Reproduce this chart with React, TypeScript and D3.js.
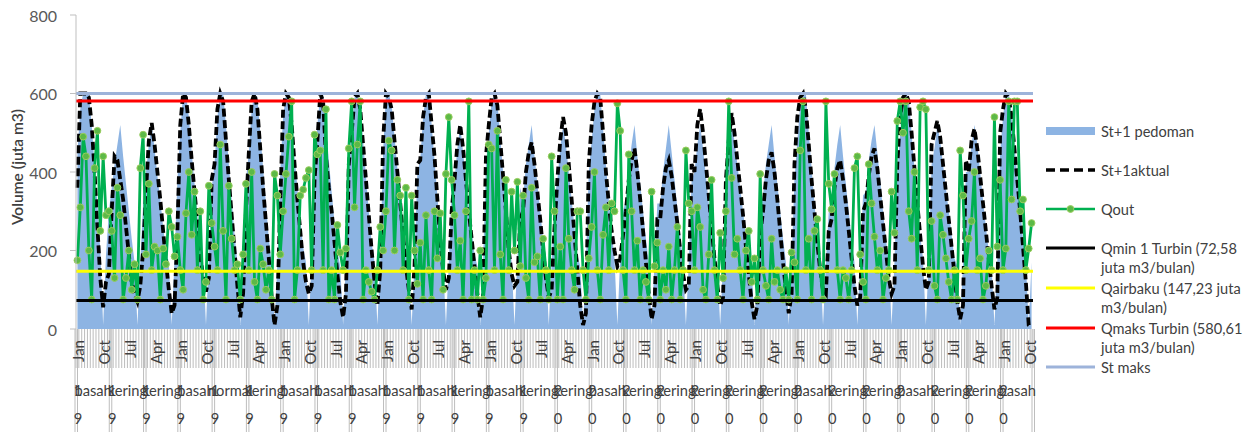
import React from 'react';
import * as d3 from 'd3';

// monthly data Jan 1986 .. Nov 2013
const monthNames = ['Jan', 'Feb', 'Mar', 'Apr', 'May', 'Jun', 'Jul', 'Aug', 'Sep', 'Oct', 'Nov', 'Dec'];
const years = ['1986', '1987', '1988', '1989', '1990', '1991', '1992', '1993', '1994', '1995', '1996', '1997', '1998', '1999',
  '2000', '2001', '2002', '2003', '2004', '2005', '2006', '2007', '2008', '2009', '2010', '2011', '2012', '2013'];
const yearTypes = ['basah', 'kering', 'kering', 'basah', 'normal', 'kering', 'basah', 'basah', 'basah', 'basah', 'basah', 'kering', 'basah', 'kering',
  'kering', 'basah', 'kering', 'kering', 'kering', 'kering', 'kering', 'basah', 'kering', 'kering', 'basah', 'kering', 'kering', 'basah'];

const pedoman = [
  450, 560, 600, 600, 600, 520, 420, 320, 200, 10, 190, 300,
  360, 420, 470, 520, 440, 370, 300, 230, 170, 10, 170, 320,
  400, 470, 520, 460, 390, 330, 260, 200, 170, 10, 180, 380,
  500, 600, 600, 540, 450, 370, 290, 220, 170, 10, 180, 360,
  420, 540, 600, 600, 520, 420, 330, 240, 170, 10, 170, 380,
  450, 560, 600, 590, 500, 410, 320, 230, 170, 10, 170, 400,
  540, 600, 600, 530, 440, 360, 280, 210, 170, 10, 180, 420,
  520, 600, 600, 520, 430, 350, 270, 200, 160, 10, 170, 430,
  500, 590, 600, 570, 480, 390, 300, 220, 170, 10, 180, 450,
  600, 600, 570, 490, 410, 340, 270, 200, 160, 10, 170, 400,
  430, 540, 600, 600, 520, 430, 340, 250, 170, 10, 170, 350,
  380, 460, 520, 450, 380, 310, 250, 190, 160, 10, 170, 420,
  500, 580, 600, 580, 490, 400, 310, 230, 170, 10, 180, 360,
  330, 420, 470, 520, 440, 370, 300, 230, 170, 10, 170, 330,
  380, 460, 520, 470, 400, 330, 260, 190, 160, 10, 170, 400,
  480, 560, 600, 600, 510, 420, 330, 250, 180, 10, 180, 300,
  330, 410, 470, 520, 440, 370, 300, 230, 170, 10, 170, 320,
  320, 400, 460, 520, 450, 380, 310, 240, 170, 10, 170, 380,
  400, 470, 520, 460, 390, 320, 260, 200, 160, 10, 170, 400,
  450, 520, 480, 420, 360, 300, 240, 180, 160, 10, 170, 300,
  340, 420, 470, 520, 440, 370, 300, 230, 170, 10, 170, 380,
  480, 570, 600, 600, 500, 410, 320, 240, 170, 10, 170, 300,
  330, 410, 470, 520, 440, 370, 300, 230, 170, 10, 170, 340,
  350, 430, 480, 520, 450, 380, 300, 230, 170, 10, 170, 400,
  500, 580, 600, 590, 500, 410, 320, 240, 180, 10, 180, 420,
  460, 520, 480, 420, 360, 300, 240, 180, 160, 10, 170, 400,
  400, 470, 520, 470, 400, 330, 260, 200, 160, 10, 170, 450,
  540, 600, 600, 550, 470, 390, 310, 230, 170, 10, 170,
];

const aktual = [
  360, 600, 600, 600, 590, 520, 400, 260, 130, 55, 120, 140,
  300, 440, 430, 380, 330, 260, 190, 120, 90, 70, 110, 200,
  350, 480, 525, 470, 400, 330, 250, 170, 100, 40, 60, 250,
  520, 600, 590, 520, 430, 350, 270, 190, 130, 95, 130, 380,
  420, 560, 600, 580, 480, 380, 290, 200, 110, 30, 90, 300,
  450, 580, 600, 560, 460, 360, 270, 180, 80, 10, 60, 320,
  560, 600, 590, 520, 420, 330, 250, 170, 120, 90, 110, 380,
  480, 600, 580, 440, 360, 300, 220, 140, 70, 30, 90, 420,
  500, 590, 600, 560, 470, 380, 290, 200, 120, 60, 150, 480,
  600, 590, 560, 480, 400, 320, 240, 160, 100, 50, 160, 420,
  430, 540, 590, 600, 520, 440, 330, 230, 150, 100, 130, 300,
  380, 470, 520, 460, 380, 300, 230, 160, 90, 30, 80, 440,
  520, 590, 600, 570, 480, 390, 300, 200, 140, 110, 120, 280,
  300, 400, 450, 475, 420, 350, 280, 200, 130, 80, 100, 260,
  380, 480, 540, 500, 420, 330, 240, 150, 60, 10, 40, 420,
  520, 580, 600, 590, 500, 400, 320, 250, 200, 160, 180, 240,
  300, 380, 430, 460, 400, 330, 250, 170, 90, 25, 60, 280,
  280, 360, 410, 430, 390, 330, 270, 200, 140, 100, 110, 420,
  400, 520, 560, 500, 420, 340, 260, 180, 110, 60, 80, 380,
  480, 550, 500, 430, 360, 290, 210, 140, 70, 25, 60, 240,
  300, 380, 430, 450, 400, 330, 250, 170, 100, 40, 90, 420,
  540, 590, 600, 560, 470, 380, 300, 220, 150, 100, 90, 250,
  280, 360, 410, 430, 380, 320, 250, 180, 110, 60, 80, 300,
  320, 390, 440, 460, 410, 340, 270, 200, 130, 90, 110, 420,
  540, 590, 600, 580, 500, 410, 320, 240, 160, 100, 120, 470,
  500, 530, 490, 420, 350, 280, 210, 140, 70, 25, 60, 430,
  400, 480, 510, 460, 390, 320, 250, 180, 110, 50, 80, 500,
  560, 600, 590, 540, 460, 380, 300, 210, 120, 10, 5,
];

const qout = [
  175, 310, 490, 440, 200, 75, 410, 505, 250, 440, 290, 300,
  250, 130, 360, 290, 75, 130, 200, 100, 165, 75, 410, 495,
  190, 370, 150, 210, 200, 75, 205, 165, 300, 260, 185, 235,
  150, 100, 295, 400, 240, 350, 150, 300, 75, 120, 365, 270,
  210, 150, 470, 250, 75, 365, 230, 150, 165, 75, 190, 370,
  150, 400, 120, 75, 205, 165, 100, 150, 75, 395, 340, 190,
  300, 395, 490, 580, 75, 150, 340, 355, 385, 405, 150, 495,
  445, 455, 150, 560, 75, 150, 75, 265, 195, 150, 205, 460,
  580, 310, 470, 580, 75, 150, 120, 95, 75, 150, 260, 200,
  300, 480, 455, 200, 380, 340, 150, 360, 75, 340, 200, 115,
  220, 75, 290, 150, 75, 300, 180, 295, 100, 395, 540, 380,
  290, 150, 225, 75, 300, 580, 75, 150, 75, 200, 75, 130,
  470, 460, 150, 505, 190, 75, 380, 150, 350, 200, 375, 160,
  340, 130, 75, 360, 170, 185, 75, 230, 150, 75, 440, 300,
  75, 210, 75, 410, 230, 150, 100, 300, 300, 150, 75, 180,
  260, 400, 150, 75, 240, 310, 150, 320, 300, 575, 505, 150,
  75, 445, 300, 150, 225, 75, 150, 120, 75, 350, 160, 220,
  75, 150, 100, 210, 75, 150, 260, 75, 150, 455, 320, 300,
  150, 310, 260, 100, 75, 190, 380, 150, 75, 245, 130, 300,
  580, 385, 190, 230, 150, 75, 200, 250, 120, 180, 75, 395,
  150, 110, 75, 230, 120, 150, 100, 75, 150, 75, 195, 170,
  75, 455, 580, 150, 230, 75, 250, 280, 150, 75, 580, 370,
  305, 395, 150, 75, 150, 130, 75, 150, 410, 440, 190, 120,
  75, 420, 320, 235, 150, 200, 75, 130, 150, 350, 245, 530,
  580, 500, 580, 300, 230, 400, 150, 565, 580, 560, 150, 275,
  110, 75, 290, 240, 180, 120, 75, 150, 75, 455, 340, 150,
  230, 275, 400, 150, 180, 75, 110, 200, 150, 540, 210, 380,
  150, 205, 580, 330, 580, 580, 300, 330, 150, 205, 270,
];

const qmin = 72.58;
const qairbaku = 147.23;
const qmaks = 580.61;
const stMaks = 600;

const FONT = "Lato, 'Open Sans', sans-serif";

export default function App() {
  const n = qout.length;
  const idx = d3.range(n);
  const x = d3.scaleBand<number>().domain(idx).range([76, 1033]).padding(0);
  const bw = x.bandwidth();
  const cx = (i: number) => (x(i) as number) + bw / 2;
  const y = d3.scaleLinear().domain([0, 800]).range([329, 15]);

  const area = d3.area<number>().x((d, i) => cx(i)).y0(y(0)).y1(d => y(d));
  const line = d3.line<number>().x((d, i) => cx(i)).y(d => y(d));

  const groupStarts = d3.range(0, n, 12);
  const edge = (i: number) => (i >= n ? 1033 : (x(i) as number));

  const refLines = [
    { v: qmin, color: '#000000' },
    { v: qairbaku, color: '#ffff00' },
    { v: qmaks, color: '#ff0000' },
    { v: stMaks, color: '#9db3da' },
  ];

  const legend = [
    { label: ['St+1 pedoman'], y: 131, kind: 'area' },
    { label: ['St+1aktual'], y: 170, kind: 'dash' },
    { label: ['Qout'], y: 209, kind: 'marker' },
    { label: ['Qmin 1 Turbin (72,58', 'juta m3/bulan)'], y: 248, kind: 'line', color: '#000000' },
    { label: ['Qairbaku (147,23 juta', 'm3/bulan)'], y: 288, kind: 'line', color: '#ffff00' },
    { label: ['Qmaks Turbin (580,61', 'juta m3/bulan)'], y: 328, kind: 'line', color: '#ff0000' },
    { label: ['St maks'], y: 367, kind: 'line', color: '#9db3da' },
  ];

  return (
    <div style={{ position: 'absolute', left: 0, top: 0 }}>
      <svg width={1250} height={432} style={{ display: 'block', background: '#fff' }} fontFamily={FONT}>
        {/* category hatch + group dividers */}
        {d3.range(n + 1).map(i => (
          <line key={'h' + i} x1={edge(i)} x2={edge(i)} y1={329} y2={368} stroke="#b4b4b4" strokeWidth={0.9} />
        ))}
        {[...groupStarts, n].map(i => (
          <g key={'d' + i}>
            <line x1={edge(i) - 1} x2={edge(i) - 1} y1={329} y2={432} stroke="#bdbdbd" strokeWidth={1} />
            <line x1={edge(i) + 1.5} x2={edge(i) + 1.5} y1={329} y2={432} stroke="#bdbdbd" strokeWidth={1} />
          </g>
        ))}

        {/* month labels every 9 categories */}
        {idx.filter(i => i % 9 === 0).map(i => (
          <text key={'m' + i} transform={`translate(${cx(i) + 1},340) rotate(-90)`} textAnchor="end"
            dominantBaseline="central" fontSize={15} fill="#404040">{monthNames[i % 12]}</text>
        ))}

        {/* year type and year rows */}
        {groupStarts.map((s, g) => {
          const e = Math.min(s + 12, n);
          const mid = (edge(s) + edge(e)) / 2;
          return (
            <g key={'y' + g} fontSize={14.7} fill="#404040">
              <text x={mid} y={396} textAnchor="middle">{yearTypes[g]}</text>
              <text x={edge(s) + 2} y={396} textAnchor="middle">{years[g].charAt(0)}</text>
              <text x={edge(s) + 2} y={424} textAnchor="middle">{years[g].charAt(1)}</text>
            </g>
          );
        })}

        {/* series */}
        <path d={area(pedoman) as string} fill="#8db4e3" />
        <path d={line(aktual) as string} fill="none" stroke="#000" strokeWidth={3.8} strokeDasharray="8,3.5" />
        <path d={line(qout) as string} fill="none" stroke="#00b050" strokeWidth={2.8} strokeLinejoin="round" />
        {qout.map((d, i) => (
          <circle key={'q' + i} cx={cx(i)} cy={y(d)} r={3.4} fill="#5cb947" stroke="#9acd5e" strokeWidth={1} />
        ))}

        {refLines.map(r => (
          <line key={r.color} x1={76} x2={1033} y1={y(r.v)} y2={y(r.v)} stroke={r.color} strokeWidth={3} />
        ))}

        {/* y axis */}
        <line x1={76} x2={76} y1={y(800)} y2={y(0)} stroke="#bfbfbf" strokeWidth={1} />
        {y.ticks(4).map(t => (
          <g key={'t' + t}>
            <line x1={70} x2={76} y1={y(t)} y2={y(t)} stroke="#bfbfbf" strokeWidth={1} />
            <text x={57} y={y(t)} textAnchor="end" dominantBaseline="central" fontSize={16} fill="#595959">{t}</text>
          </g>
        ))}
        <text transform="translate(17,167) rotate(-90)" textAnchor="middle" dominantBaseline="central"
          fontSize={15.5} fontWeight={600} fill="#404040">Volume (juta m3)</text>

        {/* legend */}
        {legend.map(l => (
          <g key={l.label[0]}>
            {l.kind === 'area' && <rect x={1046} y={l.y - 4} width={49} height={8} fill="#8db4e3" />}
            {l.kind === 'dash' && <line x1={1046} x2={1095} y1={l.y} y2={l.y} stroke="#000" strokeWidth={3.5} strokeDasharray="9,5" />}
            {l.kind === 'marker' && (
              <g>
                <line x1={1046} x2={1095} y1={l.y} y2={l.y} stroke="#00b050" strokeWidth={2.5} />
                <circle cx={1070.5} cy={l.y} r={3.4} fill="#5cb947" stroke="#9acd5e" />
              </g>
            )}
            {l.kind === 'line' && <line x1={1046} x2={1095} y1={l.y} y2={l.y} stroke={l.color} strokeWidth={3} />}
            {l.label.map((t, k) => (
              <text key={k} x={1101} y={l.y + k * 19} dominantBaseline="central" fontSize={14.6} fill="#404040">{t}</text>
            ))}
          </g>
        ))}
      </svg>
    </div>
  );
}
